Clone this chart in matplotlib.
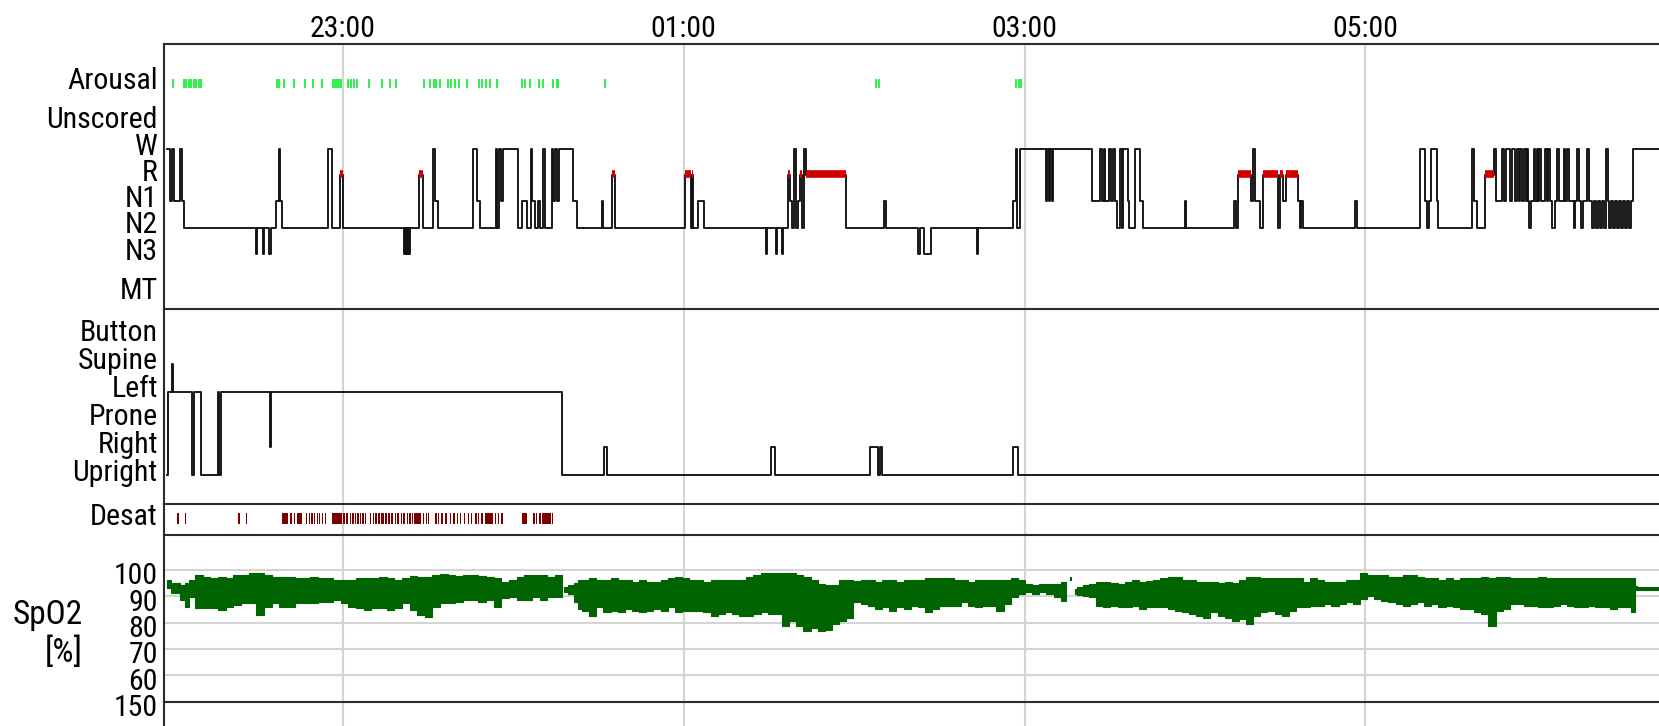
import numpy as np
import matplotlib.pyplot as plt
from matplotlib import font_manager
from matplotlib.ticker import FuncFormatter

# time axis is minutes after 21:00
t_start, t_end = 57.0, 583.4
hour_ticks = [120, 240, 360, 480]

# ------------------------------------------------------------
# hypnogram: epoch where each stage starts
# ------------------------------------------------------------
hyp_t = [
    57.9, 59.1, 59.8, 60.5, 62.6, 63.4, 64.1, 89.4, 89.8, 91.7,
    92.2, 94.1, 94.5, 96.6, 97.5, 97.9, 98.6, 114.6, 116.0, 118.8,
    120.0, 141.6, 141.9, 142.2, 142.5, 142.8, 143.1, 143.4, 143.6, 146.8,
    148.2, 151.8, 152.4, 153.5, 165.9, 167.2, 168.2, 173.9, 174.3, 175.0,
    175.8, 176.5, 181.7, 182.9, 184.7, 186.1, 186.6, 187.6, 188.8, 189.4,
    190.5, 191.2, 193.5, 194.1, 194.8, 195.5, 196.2, 201.1, 202.5, 211.1,
    211.7, 214.9, 215.7, 240.4, 242.4, 242.8, 243.2, 245.1, 247.2, 269.0,
    269.4, 272.4, 272.8, 274.5, 274.9, 276.8, 277.3, 278.0, 278.7, 279.4,
    280.3, 281.0, 281.5, 282.4, 283.1, 297.0, 310.6, 311.1, 322.4, 323.2,
    324.7, 327.0, 343.1, 343.6, 356.0, 356.9, 357.4, 358.4, 367.4, 367.9,
    368.6, 369.1, 369.5, 370.0, 383.6, 386.7, 387.4, 388.1, 388.5, 389.7,
    390.4, 391.1, 391.8, 392.4, 393.6, 394.2, 394.8, 396.3, 396.8, 398.9,
    400.6, 401.8, 416.5, 417.0, 433.8, 434.3, 435.0, 439.9, 440.6, 441.3,
    442.8, 443.9, 449.3, 450.0, 451.0, 452.1, 456.4, 457.1, 457.5, 458.2,
    476.3, 476.9, 499.4, 501.0, 501.7, 502.4, 503.1, 505.1, 505.7, 517.4,
    518.3, 519.2, 522.3, 525.4, 525.9, 528.0, 528.9, 529.4, 531.0, 531.8,
    532.7, 533.4, 534.1, 534.5, 535.0, 535.7, 536.4, 536.9, 537.4, 537.8,
    538.3, 539.5, 539.9, 540.4, 540.9, 541.3, 542.0, 543.2, 543.9, 544.4,
    545.1, 545.8, 546.7, 547.4, 548.2, 549.8, 550.3, 551.0, 551.7, 553.3,
    553.8, 554.7, 555.4, 555.9, 556.6, 558.0, 558.7, 559.7, 560.4, 561.1,
    561.8, 562.5, 563.2, 563.9, 564.6, 564.9, 565.3, 565.8, 566.5, 567.2,
    567.9, 568.6, 569.3, 570.0, 570.7, 571.4, 572.1, 572.8, 573.5, 574.1,
    583.4,
]
hyp_stage = [
    "W", "N1", "W", "N1", "W", "N1", "N2", "N3", "N2", "N3",
    "N2", "N3", "N2", "N1", "W", "N1", "N2", "W", "N2", "R",
    "N2", "N3", "N2", "N3", "N2", "N3", "N2", "N3", "N2", "R",
    "N2", "W", "N1", "N2", "W", "N1", "N2", "W", "N2", "W",
    "N1", "W", "N2", "N1", "N2", "W", "N1", "N2", "N1", "N2",
    "W", "N2", "W", "N1", "W", "N1", "W", "N1", "N2", "N1",
    "N2", "R", "N2", "R", "N2", "R", "N2", "N1", "N2", "N3",
    "N2", "N3", "N2", "N3", "N2", "R", "N1", "N2", "W", "N2",
    "N1", "R", "N2", "W", "R", "N2", "N1", "N2", "N3", "N2",
    "N3", "N2", "N3", "N2", "N1", "W", "N2", "W", "N1", "W",
    "N1", "W", "N1", "W", "N1", "W", "N1", "W", "N1", "W",
    "N1", "W", "N1", "N2", "W", "N2", "W", "N1", "N2", "W",
    "N1", "N2", "N1", "N2", "N1", "N2", "R", "N1", "W", "N1",
    "N2", "R", "N2", "R", "N1", "R", "N1", "N2", "N1", "N2",
    "N1", "N2", "W", "N1", "N2", "N1", "W", "N1", "N2", "W",
    "N1", "N2", "R", "W", "N1", "W", "N1", "W", "N1", "W",
    "N1", "W", "N1", "W", "N1", "W", "N1", "W", "N1", "N2",
    "N1", "W", "N1", "W", "N1", "W", "N1", "W", "N1", "W",
    "N1", "N2", "N1", "W", "N1", "W", "N1", "W", "N1", "N2",
    "N1", "W", "N1", "N2", "N1", "W", "N1", "N2", "N1", "N2",
    "N1", "N2", "N1", "N2", "N1", "W", "N1", "N2", "N1", "N2",
    "N1", "N2", "N1", "N2", "N1", "N2", "N1", "N2", "N1", "W",
    "W",
]

arousal_t = [
    60.3, 63.9, 64.9, 65.7, 66.6, 67.5, 68.3, 69.3, 70.2,
    96.7, 97.6, 99.2, 102.7, 106.8, 109.4, 112.8, 116.5, 117.1, 117.8,
    118.5, 119.2, 121.9, 122.8, 123.9, 124.8, 129.3, 133.7, 136.7, 138.7,
    148.5, 150.8, 151.9, 152.8, 154.2, 157.1, 158.2, 159.3, 160.9, 163.6,
    168.0, 169.0, 170.4, 171.7, 174.1, 183.2, 184.1, 185.8, 189.2, 190.3,
    193.9, 195.3, 195.9, 212.3, 307.7, 308.7, 356.9, 358.0, 358.7,
]

# ------------------------------------------------------------
# body position
# ------------------------------------------------------------
pos_t = [57.9, 58.5, 59.8, 60.3, 66.7, 67.4, 70.2, 76.0, 76.4, 76.9,
         94.2, 94.7, 197.3, 211.8, 213.1, 270.7, 272.0, 305.5, 308.5, 309.0,
         309.9, 356.1, 357.6, 583.4]
pos_val = ["Upright", "Left", "Supine", "Left", "Upright", "Left", "Upright", "Left", "Upright", "Left",
           "Right", "Left", "Upright", "Right", "Upright", "Right", "Upright", "Right", "Upright", "Right",
           "Upright", "Right", "Upright", "Upright"]

# ------------------------------------------------------------
# desaturation events (start / end, minutes)
# ------------------------------------------------------------
desat_start = [61.7, 64.3, 83.2, 85.7, 98.4, 101.2, 102.6, 103.8, 106.9, 107.9,
               108.9, 109.8, 110.7, 111.7, 112.6, 113.8, 116.0, 120.1, 121.0, 122.4,
               123.3, 124.1, 125.1, 125.9, 126.8, 127.8, 129.5, 130.5, 131.3, 132.2,
               133.5, 134.9, 135.9, 137.0, 138.2, 139.1, 140.3, 141.3, 142.4, 143.4,
               144.3, 145.2, 148.1, 149.1, 149.9, 152.5, 153.5, 154.4, 155.8, 157.7,
               158.9, 160.0, 161.2, 162.6, 164.0, 165.0, 166.6, 167.5, 168.7, 169.9,
               173.4, 174.6, 175.8, 183.0, 187.0, 188.0, 188.9, 190.1, 193.6]
desat_end = [62.4, 64.8, 83.7, 86.4, 100.5, 101.9, 103.3, 105.5, 107.3, 108.4,
             109.3, 110.3, 111.2, 112.1, 113.1, 114.1, 119.7, 120.6, 121.7, 122.8,
             123.8, 124.6, 125.5, 126.3, 127.3, 128.2, 130.0, 130.9, 131.9, 133.0,
             134.4, 135.4, 136.6, 137.7, 138.7, 139.8, 140.8, 142.0, 142.9, 143.8,
             144.8, 147.4, 148.5, 149.6, 150.4, 153.0, 153.9, 155.3, 156.5, 158.2,
             159.3, 160.5, 161.7, 163.1, 164.5, 165.4, 167.1, 168.0, 169.4, 172.9,
             173.9, 175.1, 176.5, 184.7, 187.5, 188.4, 189.6, 193.1, 194.1]

# ------------------------------------------------------------
# SpO2 range (max / min) per ~2.5 min, three recorded stretches
# ------------------------------------------------------------
spo2_t1 = [57.9, 61.2, 63.9, 65.2, 66.6, 69.3, 72.0, 74.7, 77.4, 80.1,
           82.8, 85.5, 88.2, 90.9, 93.5, 96.3, 98.9, 101.6, 104.3, 107.0,
           109.7, 112.4, 115.1, 117.8, 120.5, 123.2, 125.9, 128.6, 131.3, 134.0,
           136.7, 139.4, 142.1, 144.8, 147.5, 150.1, 152.8, 155.5, 158.2, 160.9,
           163.6, 166.3, 169.0, 171.7, 174.4, 177.1, 179.8, 182.5, 185.2, 187.9,
           190.6, 193.3, 196.0, 197.0]
spo2_hi1 = [96.2, 94.9, 94.3, 94.9, 96.2, 98.1, 97.5, 96.8, 97.5, 96.8,
            98.1, 98.1, 98.7, 99.0, 98.1, 97.5, 97.5, 97.2, 96.8, 96.8,
            97.5, 96.8, 96.8, 96.2, 96.2, 96.2, 96.8, 97.1, 96.8, 97.5,
            96.8, 96.2, 96.8, 97.7, 97.5, 97.5, 98.1, 98.5, 98.1, 97.7,
            98.1, 98.1, 97.7, 97.2, 96.8, 95.6, 96.2, 97.5, 98.1, 98.1,
            98.1, 97.5, 98.1, 98.1]
spo2_lo1 = [93.0, 91.1, 88.6, 86.1, 89.9, 85.4, 85.4, 85.4, 84.8, 86.1,
            86.7, 87.3, 87.3, 82.9, 86.1, 87.3, 86.1, 86.1, 87.3, 87.3,
            87.3, 88.0, 88.0, 88.6, 87.3, 86.1, 85.4, 84.8, 85.4, 85.4,
            84.8, 85.4, 87.3, 84.8, 82.9, 82.3, 86.1, 87.3, 87.3, 88.0,
            88.6, 88.6, 88.0, 88.6, 86.1, 89.2, 89.9, 88.6, 88.6, 89.9,
            88.6, 89.9, 89.9, 89.9]

spo2_t2 = [198.0, 200.4, 202.3, 203.0, 205.5, 208.0, 210.5, 213.0, 215.5, 218.1,
           220.6, 223.1, 225.6, 228.1, 230.6, 233.1, 235.7, 238.2, 240.7, 243.2,
           245.7, 248.2, 250.7, 253.3, 255.8, 258.3, 260.8, 263.3, 265.8, 268.4,
           270.9, 273.4, 275.9, 278.4, 280.9, 283.4, 286.0, 288.5, 291.0, 293.5,
           296.0, 298.5, 301.0, 303.6, 306.1, 308.6, 311.1, 313.6, 316.1, 318.7,
           321.2, 323.7, 326.2, 328.7, 331.2, 333.7, 336.3, 338.8, 341.3, 343.8,
           346.3, 348.8, 351.3, 353.9, 356.4, 358.9, 361.4, 363.9, 366.4, 368.9,
           371.5, 374.0, 374.6]
spo2_hi2 = [93.5, 94.2, 95.0, 96.1, 96.1, 96.8, 96.1, 96.1, 96.8, 96.4,
            96.1, 95.5, 96.1, 95.5, 95.5, 96.1, 96.8, 97.4, 96.8, 96.4,
            96.1, 95.5, 96.1, 96.1, 96.1, 96.1, 96.1, 97.4, 98.1, 98.7,
            98.7, 98.7, 98.7, 98.7, 98.1, 97.4, 96.1, 94.8, 94.2, 94.2,
            96.1, 96.1, 95.9, 96.1, 96.1, 95.5, 96.1, 96.1, 95.5, 96.1,
            96.1, 96.1, 96.8, 96.8, 96.8, 96.8, 96.1, 96.1, 95.5, 96.4,
            96.1, 96.1, 96.1, 96.1, 96.8, 96.1, 94.8, 94.2, 94.6, 94.8,
            94.8, 95.5, 95.5]
spo2_lo2 = [91.6, 91.0, 88.0, 85.2, 84.5, 82.6, 85.8, 83.9, 84.5, 83.9,
            85.2, 84.5, 83.9, 84.5, 85.2, 84.5, 85.8, 83.9, 84.5, 84.5,
            84.5, 83.9, 82.6, 83.2, 83.9, 83.2, 82.6, 82.6, 83.2, 83.9,
            83.2, 83.2, 78.7, 80.6, 78.7, 76.8, 78.1, 76.8, 77.4, 79.4,
            80.6, 81.9, 87.7, 87.1, 86.5, 85.2, 85.8, 84.5, 85.8, 85.2,
            86.5, 85.8, 83.9, 85.2, 86.5, 86.5, 86.5, 87.7, 86.5, 85.8,
            86.5, 86.5, 84.5, 87.1, 89.7, 91.0, 91.6, 91.0, 91.6, 91.0,
            89.7, 88.4, 88.4]

# short artefact blip inside the signal gap
spo2_t_blip = [376.0, 376.4]
spo2_hi_blip = [97.4, 97.4]
spo2_lo_blip = [96.1, 96.1]

spo2_t3 = [377.7, 379.5, 381.5, 384.0, 386.5, 389.0, 391.5, 394.0, 396.5, 399.1,
           401.6, 404.1, 406.6, 409.1, 411.6, 414.1, 416.6, 419.1, 421.6, 424.2,
           426.7, 429.2, 431.7, 434.2, 436.7, 439.2, 441.7, 444.2, 446.8, 449.3,
           451.8, 454.3, 456.8, 459.3, 461.8, 464.3, 466.8, 469.3, 471.9, 474.4,
           476.9, 479.4, 481.9, 484.4, 486.9, 489.4, 491.9, 494.5, 497.0, 499.5,
           502.0, 504.5, 507.0, 509.5, 512.0, 514.5, 517.1, 519.6, 522.1, 524.6,
           527.1, 529.6, 532.1, 534.6, 537.1, 539.6, 542.2, 544.7, 547.2, 549.7,
           552.2, 554.7, 557.2, 559.7, 562.2, 564.8, 567.3, 569.8, 572.3, 574.8,
           575.4, 576.1, 580.0, 583.3]
spo2_hi3 = [92.9, 93.5, 94.2, 94.8, 95.5, 95.5, 95.2, 94.8, 95.5, 96.1,
            95.5, 95.7, 96.1, 96.8, 97.4, 97.4, 96.1, 96.1, 95.5, 95.5,
            95.5, 95.2, 95.5, 95.2, 96.1, 97.4, 97.4, 96.8, 96.8, 96.8,
            96.8, 96.8, 96.8, 95.5, 96.8, 96.1, 95.5, 95.5, 95.5, 96.1,
            96.1, 98.7, 98.1, 98.1, 98.1, 97.4, 97.4, 98.1, 98.1, 97.4,
            96.8, 96.8, 96.1, 96.8, 96.1, 96.8, 96.8, 96.8, 97.4, 96.8,
            97.4, 97.4, 96.8, 96.8, 96.8, 96.8, 97.4, 96.8, 96.8, 96.8,
            96.8, 96.8, 96.8, 96.8, 97.0, 96.8, 97.0, 96.8, 97.0, 96.8,
            94.0, 93.5, 93.5, 93.5]
spo2_lo3 = [91.0, 90.6, 90.3, 89.7, 86.5, 85.8, 86.5, 85.8, 85.8, 86.5,
            85.2, 85.8, 85.8, 85.8, 85.2, 84.5, 83.9, 83.2, 82.6, 81.9,
            83.9, 82.6, 81.9, 80.6, 81.3, 79.4, 82.6, 83.9, 84.5, 83.2,
            82.6, 84.5, 85.8, 85.8, 86.5, 86.5, 87.1, 86.5, 87.1, 87.7,
            87.1, 89.0, 90.3, 89.0, 88.4, 87.7, 87.1, 86.5, 87.1, 87.7,
            86.5, 87.1, 85.8, 86.5, 85.8, 85.2, 85.2, 83.9, 83.2, 78.7,
            84.5, 85.2, 87.1, 87.1, 86.5, 86.5, 85.8, 85.8, 86.5, 87.1,
            86.5, 85.8, 85.8, 86.5, 85.8, 85.8, 85.2, 85.8, 85.8, 83.9,
            92.5, 92.3, 92.6, 92.3]

hyp_rows = ["Arousal", "Unscored", "W", "R", "N1", "N2", "N3", "MT"]
pos_rows = ["Button", "Supine", "Left", "Prone", "Right", "Upright"]
spo2_grid = [100, 90, 80, 70, 60]

assert len(hyp_t) == len(hyp_stage) and len(pos_t) == len(pos_val)

# ------------------------------------------------------------
# font: narrowest sans face that is installed
# ------------------------------------------------------------
system_fonts = sorted(font_manager.findSystemFonts())
narrow = None
for key in ("LiberationSansNarrow-Regular", "RobotoCondensed-Regular",
            "OpenSans_Condensed-Regular", "OpenSansCondensed-Regular",
            "NotoSans-CondensedRegular", "DejaVuSansCondensed.ttf"):
    hits = [p for p in system_fonts if key in p]
    if hits:
        narrow = hits[0]
        break

if narrow:
    font_manager.fontManager.addfont(narrow)
    plt.rcParams["font.family"] = font_manager.FontProperties(fname=narrow).get_name()
    if "DejaVu" in narrow:
        plt.rcParams["font.stretch"] = "condensed"
        FS, FS_BIG = 20, 22.5
    else:
        FS, FS_BIG = 21.5, 24
else:
    plt.rcParams["font.family"] = "Liberation Sans"
    FS, FS_BIG = 19, 21.5

EDGE = "#2b2b2b"
GRID = "#d4d4d4"
TRACE = "#111111"
REM = "#d00000"
AROUSAL = "#1cf03c"
DESAT = "#7a0000"
SPO2 = "#006400"

W, H = 1659, 726
LEFT = 164
fig = plt.figure(figsize=(W / 100, H / 100), dpi=100)


def panel(top, bottom):
    # axes spanning pixel rows top..bottom, from the left rule to the edge
    return fig.add_axes([LEFT / W, 1 - bottom / H, 1 - LEFT / W, (bottom - top) / H])


ax_hyp = panel(44, 309)
ax_pos = panel(309, 504)
ax_des = panel(504, 535)
ax_spo = panel(535, 701.7)
ax_hr = panel(701.7, 726)

for ax in (ax_hyp, ax_pos, ax_des, ax_spo, ax_hr):
    ax.set_xlim(t_start, t_end)
    ax.set_xticks(hour_ticks)
    ax.grid(axis="x", color=GRID, lw=1.5)
    ax.set_axisbelow(True)
    ax.spines[["right", "bottom"]].set_visible(False)
    for side in ("left", "top"):
        ax.spines[side].set_color(EDGE)
        ax.spines[side].set_linewidth(1.5)
    ax.tick_params(length=0, labelsize=FS, pad=4.5, labelbottom=False)
    ax.patch.set_alpha(0)

# top clock labels
ax_hyp.tick_params(axis="x", labeltop=True, pad=1)
ax_hyp.xaxis.set_major_formatter(FuncFormatter(lambda m, _: f"{int(21 + m // 60) % 24:02d}:00"))

# ---- hypnogram ----
level = {"Arousal": -2.5, "Unscored": -1, "W": 0, "R": 1, "N1": 2, "N2": 3, "N3": 4, "MT": 5.5}
ax_hyp.set_ylim(6.1, -4.0)
ax_hyp.step(hyp_t, [level[s] for s in hyp_stage], where="post", color=TRACE, lw=1.35, zorder=2)
for t0, t1, s in zip(hyp_t[:-1], hyp_t[1:], hyp_stage[:-1]):
    if s == "R":
        ax_hyp.hlines(level["R"] - 0.06, t0, t1, color=REM, lw=5.5, capstyle="butt", zorder=3)
ax_hyp.vlines(arousal_t, level["Arousal"] - 0.17, level["Arousal"] + 0.17, color=AROUSAL, lw=1.3)
ax_hyp.set_yticks([level[r] - 0.2 for r in hyp_rows], hyp_rows)

# ---- body position ----
ax_pos.set_ylim(6.04, -0.97)
ax_pos.step(pos_t, [pos_rows.index(p) for p in pos_val], where="post", color=TRACE, lw=1.35)
ax_pos.set_yticks([i - 0.2 for i in range(len(pos_rows))], pos_rows)

# ---- desaturations ----
ax_des.set_ylim(1, 0)
ax_des.broken_barh([(s, e - s) for s, e in zip(desat_start, desat_end)], (0.3, 0.33),
                   facecolors=DESAT)
ax_des.set_yticks([0.32], ["Desat"])

# ---- SpO2 ----
ax_spo.set_ylim(50, 113.3)
for v in spo2_grid:
    ax_spo.axhline(v, color=GRID, lw=1.5, zorder=0)
for t, hi, lo in ((spo2_t1, spo2_hi1, spo2_lo1), (spo2_t2, spo2_hi2, spo2_lo2),
                  (spo2_t_blip, spo2_hi_blip, spo2_lo_blip), (spo2_t3, spo2_hi3, spo2_lo3)):
    ax_spo.fill_between(t, lo, hi, step="mid", color=SPO2, lw=0.8)
ax_spo.set_yticks([v - 1.2 for v in spo2_grid], [str(v) for v in spo2_grid])

# next channel (heart rate) only shows its top value
ax_hr.set_ylim(140, 150)
ax_hr.set_yticks([148.6], ["150"])

fig.text(83 / W, 1 - 634 / H, "SpO2\n[%]", ha="right", va="center", ma="right",
         fontsize=FS_BIG, linespacing=1.25)

fig.savefig("out.png", dpi=100)
